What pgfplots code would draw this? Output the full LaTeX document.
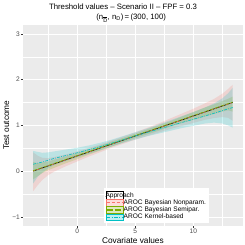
\documentclass[border=0pt]{standalone}
\usepackage{pgfplots}
\pgfplotsset{compat=1.18}
\usepackage{pgfplotstable}
\usepgfplotslibrary{fillbetween}
\usetikzlibrary{calc}
\usepackage{fontspec}
\setmainfont{Liberation Sans}
\definecolor{panelbg}{HTML}{EBEBEB}
\definecolor{cred}{HTML}{F8766D}
\definecolor{cgreen}{HTML}{7CAE00}
\definecolor{ccyan}{HTML}{00BFC4}
\definecolor{tickc}{HTML}{333333}
\definecolor{labc}{HTML}{4D4D4D}
\newcommand{\Dbar}{\ensuremath{\overline{\mbox{D}}}}

\pgfplotstableread{
x     t
-3.8  0.000
13.4  1.500
}\truetab

\pgfplotstableread{
x     m      lo      hi
-3.8  0.000  -0.440  0.410
-3.4  0.035  -0.305  0.335
-3.0  0.069  -0.191  0.289
-2.5  0.113  -0.087  0.283
-2.0  0.157  -0.013  0.307
-1.0  0.244   0.104  0.364
0.0   0.331   0.211  0.431
1.0   0.418   0.318  0.508
2.0   0.505   0.415  0.585
3.0   0.593   0.513  0.673
4.0   0.680   0.600  0.760
5.0   0.767   0.687  0.847
6.0   0.854   0.764  0.944
7.0   0.941   0.841  1.041
8.0   1.029   0.919  1.149
9.0   1.116   0.986  1.256
10.0  1.203   1.053  1.363
11.0  1.290   1.120  1.480
11.8  1.360   1.160  1.580
12.5  1.421   1.181  1.691
13.0  1.465   1.165  1.795
13.4  1.500   1.100  1.890
}\redtab

\pgfplotstableread{
x     m      lo      hi
-3.8  0.010  -0.180  0.200
-3.4  0.045  -0.110  0.170
-3.0  0.079  -0.040  0.190
-2.5  0.123   0.020  0.210
-2.0  0.167   0.070  0.250
-1.0  0.254   0.170  0.320
0.0   0.341   0.260  0.400
1.0   0.428   0.360  0.480
2.0   0.515   0.450  0.560
3.0   0.603   0.540  0.650
4.0   0.690   0.630  0.730
5.0   0.777   0.720  0.820
6.0   0.864   0.800  0.910
7.0   0.951   0.880  1.000
8.0   1.039   0.970  1.090
9.0   1.126   1.050  1.190
10.0  1.213   1.120  1.290
11.0  1.300   1.190  1.390
11.8  1.370   1.250  1.460
12.5  1.431   1.300  1.530
13.0  1.475   1.330  1.580
13.4  1.510   1.300  1.630
}\greentab

\pgfplotstableread{
x     m      lo      hi
-3.8  0.150  -0.270  0.440
-3.4  0.175  -0.120  0.420
-3.0  0.199  -0.030  0.400
-2.5  0.238   0.060  0.410
-2.0  0.277   0.130  0.430
-1.0  0.339   0.220  0.470
0.0   0.401   0.300  0.510
1.0   0.468   0.380  0.560
2.0   0.535   0.460  0.620
3.0   0.613   0.540  0.690
4.0   0.690   0.620  0.770
5.0   0.767   0.690  0.850
6.0   0.844   0.760  0.930
7.0   0.916   0.820  1.020
8.0   0.989   0.880  1.110
9.0   1.061   0.940  1.200
10.0  1.133   0.990  1.290
11.0  1.205   1.040  1.390
11.8  1.265   1.060  1.480
12.5  1.321   1.040  1.590
13.0  1.360   1.000  1.700
13.4  1.390   0.950  1.820
}\cyantab

\begin{document}
\begin{tikzpicture}
\begin{axis}[
  scale only axis,
  width=219.5bp, height=201.3bp,
  xmin=-4.66, xmax=14.26, ymin=-1.2, ymax=3.2,
  axis background/.style={fill=panelbg},
  axis line style={draw=none},
  xtick={0,5,10}, xticklabels={0,5,10},
  ytick={-1,0,1,2,3}, yticklabels={−1,0,1,2,3},
  minor xtick={-2.5,2.5,7.5,12.5},
  minor ytick={-0.5,0.5,1.5,2.5},
  grid=both,
  major grid style={white, line width=0.6bp},
  minor grid style={white, line width=0.3bp},
  tick pos=left, tick align=outside,
  major tick length=2.2bp, minor tick length=0pt,
  tick style={tickc, line width=0.4bp},
  ticklabel style={font=\fontsize{6.6}{7}\selectfont, text=labc},
  xticklabel style={inner sep=1bp},
  yticklabel style={inner sep=1bp},
  /pgf/number format/assume math mode=true,
  clip=false,
  legend cell align=left,
  legend style={at={(rel axis cs:0.365,0.0134)}, anchor=south west,
    draw=none, fill=white, font=\fontsize{6.6}{7}\selectfont,
    inner xsep=2.5bp, inner ysep=2.5bp, row sep=0pt,
    nodes={inner sep=0.3bp}},
]
% legend
\addlegendimage{legend image code/.code={\path (0bp,-3.35bp) rectangle (17bp,5bp);}}
\addlegendentry{\hspace*{-18.2bp}Approach}
\addlegendimage{legend image code/.code={\fill[cred, fill opacity=0.25] (0bp,-3.35bp) rectangle (17bp,3.35bp); \draw[cred, line width=1.1bp, dash pattern=on 3bp off 2bp] (0.5bp,0bp) -- (16.5bp,0bp);}}
\addlegendentry{AROC Bayesian Nonparam.}
\addlegendimage{legend image code/.code={\fill[cgreen, fill opacity=0.25] (0bp,-3.35bp) rectangle (17bp,3.35bp); \draw[cgreen, line width=1.1bp, dash pattern=on 6bp off 2bp] (0.5bp,0bp) -- (16.5bp,0bp);}}
\addlegendentry{AROC Bayesian Semipar.}
\addlegendimage{legend image code/.code={\fill[ccyan, fill opacity=0.25] (0bp,-3.35bp) rectangle (17bp,3.35bp); \draw[ccyan, line width=1.1bp, dash pattern=on 3.5bp off 1.5bp on 1bp off 1.5bp] (0.5bp,0bp) -- (16.5bp,0bp);}}
\addlegendentry{AROC Kernel-based}
% bands
\addplot[draw=none, name path=rlo, forget plot] table[x=x,y=lo] {\redtab};
\addplot[draw=none, name path=rhi, forget plot] table[x=x,y=hi] {\redtab};
\addplot[cred, fill opacity=0.2, draw=none, forget plot] fill between[of=rlo and rhi];
\addplot[draw=none, name path=glo, forget plot] table[x=x,y=lo] {\greentab};
\addplot[draw=none, name path=ghi, forget plot] table[x=x,y=hi] {\greentab};
\addplot[cgreen, fill opacity=0.2, draw=none, forget plot] fill between[of=glo and ghi];
\addplot[draw=none, name path=clo, forget plot] table[x=x,y=lo] {\cyantab};
\addplot[draw=none, name path=chi, forget plot] table[x=x,y=hi] {\cyantab};
\addplot[ccyan, fill opacity=0.2, draw=none, forget plot] fill between[of=clo and chi];
% lines
\addplot[black, line width=0.6bp, forget plot] table[x=x,y=t] {\truetab};
\addplot[cred, line width=0.6bp, dash pattern=on 2bp off 2bp, forget plot] table[x=x,y=m] {\redtab};
\addplot[cgreen, line width=0.6bp, dash pattern=on 4bp off 1.5bp, forget plot] table[x=x,y=m] {\greentab};
\addplot[ccyan, line width=0.6bp, dash pattern=on 3bp off 1.2bp on 0.8bp off 1.2bp, forget plot] table[x=x,y=m] {\cyantab};
% titles
\node[anchor=base, font=\fontsize{7.8}{9}\selectfont] at ([yshift=15.5bp]rel axis cs:0.4547,1) {Threshold values – Scenario II – FPF = 0.3};
\node[anchor=base, font=\fontsize{7.8}{9}\selectfont] at ([yshift=5.3bp]rel axis cs:0.4919,1) {(n\textsubscript{\Dbar}, n\textsubscript{D})\,=\,(300, 100)};
\node[rotate=90, anchor=center, font=\fontsize{8.3}{9}\selectfont] at ([xshift=-17bp]rel axis cs:0,0.5) {Test outcome};
\node[anchor=base, font=\fontsize{8.3}{9}\selectfont] at ([yshift=-17.5bp]rel axis cs:0.5,0) {Covariate values};
\end{axis}
\pgfresetboundingbox
\path[use as bounding box] ($(current axis.south west)+(-23.2bp,-19bp)$) rectangle ($(current axis.north east)+(2.3bp,24.7bp)$);
\end{tikzpicture}
\end{document}
